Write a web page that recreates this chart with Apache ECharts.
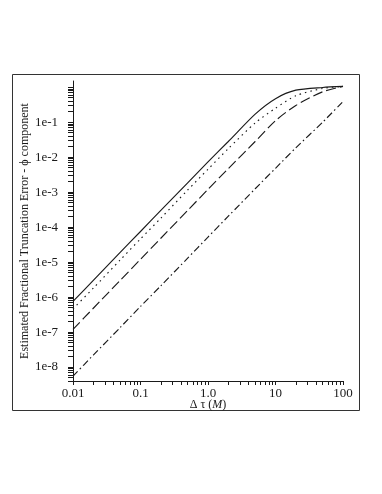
<!DOCTYPE html>
<html>
<head>
<meta charset="utf-8">
<script src="https://cdn.jsdelivr.net/npm/echarts@6/dist/echarts.min.js"></script>
<style>
html, body { margin: 0; padding: 0; background: #fff; }
#main { width: 382px; height: 494px; }
</style>
</head>
<body>
<div id="main"></div>
<script>
// 时间步长 Δτ (M)
var dtau = [0.01, 0.02, 0.05, 0.1, 0.2, 0.5, 1, 2, 5, 10, 20, 50, 100];

// 四条曲线 (实线 / 点线 / 虚线 / 点划线)
var errSolid   = [7.5e-7, 3.0e-6, 1.9e-5, 7.5e-5, 3.0e-4, 1.85e-3, 7.3e-3, 2.8e-2, 0.17, 0.47, 0.82, 0.98, 1.05];
var errDotted  = [4.6e-7, 1.8e-6, 1.15e-5, 4.6e-5, 1.8e-4, 1.15e-3, 4.5e-3, 1.75e-2, 0.095, 0.25, 0.57, 0.92, 1.05];
var errDashed  = [1.2e-7, 4.8e-7, 3.0e-6, 1.2e-5, 4.8e-5, 3.0e-4, 1.2e-3, 4.7e-3, 2.8e-2, 0.11, 0.30, 0.74, 1.05];
var errDashDot = [5.5e-9, 2.2e-8, 1.35e-7, 5.4e-7, 2.1e-6, 1.3e-5, 5.2e-5, 2.05e-4, 1.25e-3, 4.8e-3, 1.85e-2, 0.10, 0.39];

// 刻度标签
var xLabelValues = [0.01, 0.1, 1, 10, 100];
var xLabelText = ['0.01', '0.1', '1.0', '10', '100'];
var yLabelValues = [1e-8, 1e-7, 1e-6, 1e-5, 1e-4, 1e-3, 1e-2, 1e-1];
var tickMantissa = [1, 2, 3, 4, 5, 6, 7, 8, 9];

var xMin = 0.01, xMax = 100, yMin = 4e-9, yMax = 1.5;

// 对数刻度（含次刻度）
function logTicks(lo, hi) {
    var out = [];
    for (var e = -10; e <= 3; e++) {
        for (var i = 0; i < tickMantissa.length; i++) {
            var v = tickMantissa[i] * Math.pow(10, e);
            if (v >= lo * 0.999 && v <= hi * 1.001) out.push(v);
        }
    }
    return out;
}

function pairs(ys) {
    var d = [];
    for (var i = 0; i < dtau.length; i++) d.push([dtau[i], ys[i]]);
    return d;
}

var ink = '#1a1a1a';
var font = '"Liberation Serif", "Times New Roman", serif';

function line(name, ys, dash) {
    return {
        name: name,
        type: 'line',
        data: pairs(ys),
        showSymbol: false,
        smooth: 0.25,
        lineStyle: { color: ink, width: 1.15, type: dash }
    };
}

var chart = echarts.init(document.getElementById('main'));
var option = {
    animation: false,
    backgroundColor: '#fff',
    textStyle: { fontFamily: font, color: ink },
    graphic: [{
        type: 'rect',
        shape: { x: 12.5, y: 74.5, width: 347, height: 336 },
        style: { fill: 'none', stroke: '#333', lineWidth: 1 },
        silent: true
    }],
    grid: { left: 73, right: 39, top: 81, bottom: 113, containLabel: false, outerBoundsMode: 'none' },
    xAxis: {
        type: 'log',
        min: xMin,
        max: xMax,
        name: '{n|Δ τ (}{i|M}{n|)}',
        nameLocation: 'middle',
        nameGap: 18,
        nameMoveOverlap: false,
        nameTextStyle: {
            rich: {
                n: { fontFamily: font, fontSize: 12, color: ink },
                i: { fontFamily: font, fontSize: 12, color: ink, fontStyle: 'italic' }
            }
        },
        axisLine: { lineStyle: { color: ink, width: 1 } },
        axisTick: { length: 4, lineStyle: { color: ink }, customValues: logTicks(xMin, xMax) },
        minorTick: { show: false },
        splitLine: { show: false },
        axisLabel: {
            customValues: xLabelValues,
            margin: 6,
            fontSize: 13,
            fontFamily: font,
            color: ink,
            formatter: function (v) {
                for (var i = 0; i < xLabelValues.length; i++) {
                    if (Math.abs(Math.log10(v) - Math.log10(xLabelValues[i])) < 1e-6) return xLabelText[i];
                }
                return '';
            }
        }
    },
    yAxis: {
        type: 'log',
        min: yMin,
        max: yMax,
        name: 'Estimated Fractional Truncation Error - ϕ component',
        nameLocation: 'middle',
        nameGap: 42,
        nameMoveOverlap: false,
        nameTextStyle: { fontFamily: font, fontSize: 12, color: ink },
        axisLine: { lineStyle: { color: ink, width: 1 } },
        axisTick: { length: 5, lineStyle: { color: ink }, customValues: logTicks(yMin, yMax) },
        minorTick: { show: false },
        splitLine: { show: false },
        axisLabel: {
            customValues: yLabelValues,
            margin: 15,
            fontSize: 13,
            fontFamily: font,
            color: ink,
            formatter: function (v) {
                return '1e' + Math.round(Math.log10(v));
            }
        }
    },
    series: [
        line('solid', errSolid, 'solid'),
        line('dotted', errDotted, [1.5, 4]),
        line('dashed', errDashed, [10, 4]),
        line('dashdot', errDashDot, [7, 3, 1.5, 3])
    ]
};
chart.setOption(option);
</script>
</body>
</html>
